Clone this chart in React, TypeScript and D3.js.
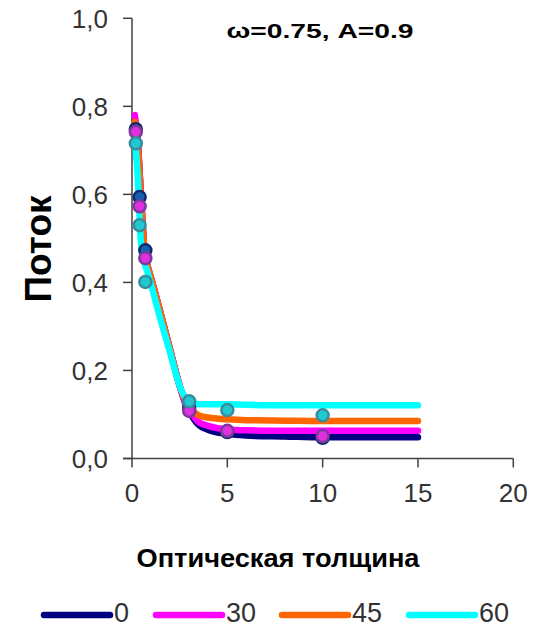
import React from "react";
import * as d3 from "d3";

// Model curves: flux vs optical thickness for four incidence angles
const lineX = [0.15, 0.3, 0.47, 0.65, 0.8, 1, 1.5, 2, 2.5, 2.8, 3.1, 3.5, 4, 5, 6, 8, 10, 15];
const line0 = [0.77, 0.72, 0.596, 0.475, 0.44, 0.41, 0.33, 0.247, 0.165, 0.125, 0.1, 0.076, 0.065, 0.056, 0.052, 0.05, 0.048, 0.048];
const line30 = [0.78, 0.72, 0.596, 0.475, 0.44, 0.41, 0.33, 0.247, 0.165, 0.127, 0.104, 0.083, 0.074, 0.066, 0.064, 0.063, 0.063, 0.063];
const line45 = [0.765, 0.715, 0.594, 0.475, 0.44, 0.41, 0.33, 0.247, 0.165, 0.132, 0.113, 0.098, 0.093, 0.089, 0.087, 0.086, 0.085, 0.085];
const line60 = [0.73, 0.64, 0.49, 0.445, 0.425, 0.395, 0.315, 0.24, 0.165, 0.138, 0.127, 0.123, 0.123, 0.123, 0.122, 0.121, 0.121, 0.121];

// Computed points
const pointX = [0.2, 0.4, 0.7, 3, 5, 10];
const points0 = [0.748, 0.594, 0.473, 0.115, 0.06, 0.047];
const points30 = [0.742, 0.573, 0.455, 0.108, 0.063, 0.051];
const points60 = [0.716, 0.53, 0.401, 0.13, 0.11, 0.098];

const angles = ["0", "30", "45", "60"];
const xTicks = [0, 5, 10, 15, 20];
const yTicks = [0, 0.2, 0.4, 0.6, 0.8, 1.0];

const lineColors = ["#000080", "#ff00ff", "#ff6600", "#00ffff"];

export default function App() {
  const W = 554;
  const H = 628;
  const x = d3.scaleLinear().domain([0, 20]).range([132, 513.3]);
  const y = d3.scaleLinear().domain([0, 1]).range([458.5, 18.3]);

  const lines = [line0, line30, line45, line60];
  const gen = d3
    .line<number>()
    .x((_, i) => x(lineX[i]))
    .y((d) => y(d))
    .curve(d3.curveMonotoneX);

  const pointSets = [
    { vals: points0, fill: "#1262b2", stroke: "#14286e" },
    { vals: points30, fill: "#e030e0", stroke: "#7b3b9b" },
    { vals: points60, fill: "#20c8d0", stroke: "#3a8c9c" },
  ];

  const fmt = (v: number) => v.toFixed(1).replace(".", ",");
  const axisColor = "#404040";
  const font = "'Liberation Sans', Arial, sans-serif";

  const legendItems = [
    { x1: 44, x2: 110, tx: 114 },
    { x1: 156, x2: 222, tx: 226 },
    { x1: 282, x2: 348, tx: 352 },
    { x1: 409, x2: 475, tx: 479 },
  ];

  return (
    <svg
      width={W}
      height={H}
      style={{ position: "absolute", left: 0, top: 0, background: "#fff" }}
      fontFamily={font}
    >
      <rect width={W} height={H} fill="#fff" />

      {/* axes */}
      <line x1={x(0)} x2={x(0)} y1={y(1)} y2={y(0)} stroke={axisColor} strokeWidth={1.5} />
      <line x1={123} x2={x(20)} y1={y(0)} y2={y(0)} stroke={axisColor} strokeWidth={1.5} />
      {yTicks.map((t) => (
        <g key={"y" + t}>
          <line x1={123} x2={x(0)} y1={y(t)} y2={y(t)} stroke={axisColor} strokeWidth={1.5} />
          <text
            x={108}
            y={y(t) + 9.5}
            textAnchor="end"
            fontSize={26}
            fill="#333"
          >
            {fmt(t)}
          </text>
        </g>
      ))}
      {xTicks.map((t) => (
        <g key={"x" + t}>
          <line x1={x(t)} x2={x(t)} y1={y(0)} y2={y(0) + 9} stroke={axisColor} strokeWidth={1.5} />
          <text x={x(t)} y={501.5} textAnchor="middle" fontSize={26} fill="#333">
            {t}
          </text>
        </g>
      ))}

      {/* curves */}
      {lines.map((vals, i) => (
        <path
          key={"l" + i}
          d={gen(vals) || ""}
          fill="none"
          stroke={lineColors[i]}
          strokeWidth={6.5}
          strokeLinecap="round"
          strokeLinejoin="round"
        />
      ))}

      {/* points */}
      {pointSets.map((s, si) =>
        s.vals.map((v, i) => (
          <circle
            key={"p" + si + "-" + i}
            cx={x(pointX[i])}
            cy={y(v)}
            r={6}
            fill={s.fill}
            stroke={s.stroke}
            strokeWidth={2.5}
          />
        ))
      )}

      {/* titles */}
      <text
        x={320}
        y={37.5}
        textAnchor="middle"
        fontSize={21}
        fontWeight="bold"
        fill="#000"
        textLength={187}
        lengthAdjust="spacingAndGlyphs"
      >
        ω=0.75, A=0.9
      </text>
      <text
        x={278}
        y={567}
        textAnchor="middle"
        fontSize={25}
        fontWeight="bold"
        fill="#000"
        textLength={283}
        lengthAdjust="spacingAndGlyphs"
      >
        Оптическая толщина
      </text>
      <text
        transform="translate(51,249) rotate(-90)"
        textAnchor="middle"
        fontSize={37}
        fontWeight="bold"
        fill="#000"
      >
        Поток
      </text>

      {/* legend */}
      {legendItems.map((it, i) => (
        <g key={"lg" + i}>
          <line
            x1={it.x1}
            x2={it.x2}
            y1={615}
            y2={615}
            stroke={lineColors[i]}
            strokeWidth={6.5}
            strokeLinecap="round"
          />
          <text x={it.tx} y={622} fontSize={27} fill="#333">
            {angles[i]}
          </text>
        </g>
      ))}
    </svg>
  );
}
